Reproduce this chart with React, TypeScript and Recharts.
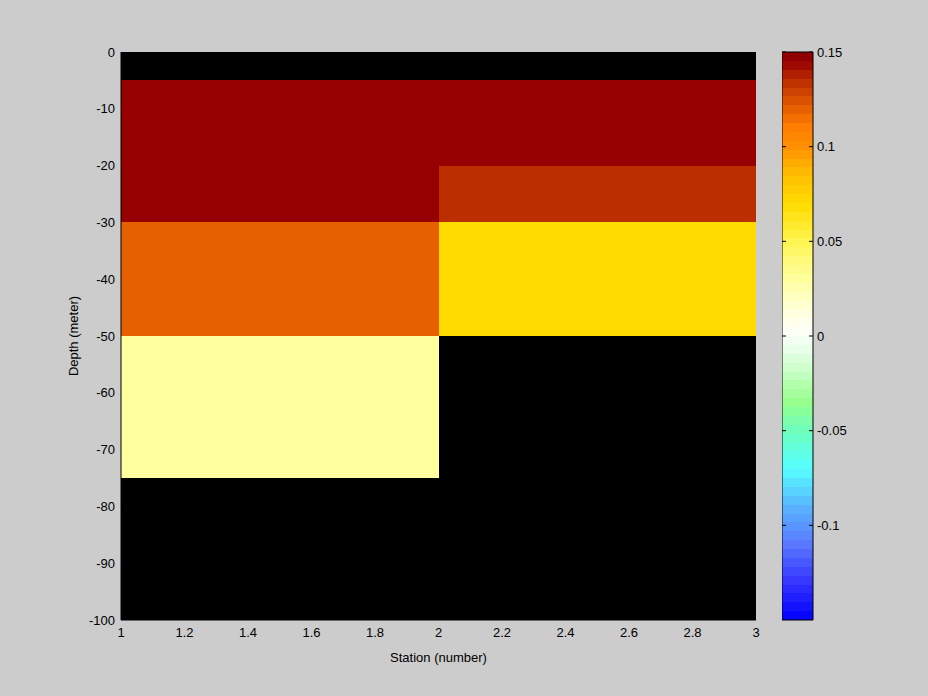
import React from 'react';
import { ComposedChart, XAxis, YAxis, ReferenceArea } from 'recharts';

// pcolor grid: cell edges and one value per depth band (null = no data, drawn black)
const stationEdges = [1, 2, 3];
const depthEdges = [0, -5, -20, -30, -50, -75, -100];
const station1Values = [null, 0.145, 0.145, 0.12, 0.03, null];
const station2Values = [null, 0.145, 0.135, 0.07, null, null];

const xTicks = [1, 1.2, 1.4, 1.6, 1.8, 2, 2.2, 2.4, 2.6, 2.8, 3];
const yTicks = [0, -10, -20, -30, -40, -50, -60, -70, -80, -90, -100];
const colorTicks = [0.15, 0.1, 0.05, 0, -0.05, -0.1];
const colorLimits = [-0.15, 0.15];

// colormap anchors (value, colour)
const cmapStops: [number, string][] = [
  [-0.15, '#0000ff'],
  [-0.13, '#3434ff'],
  [-0.11, '#5a78ff'],
  [-0.09, '#5ab4ff'],
  [-0.07, '#55ffff'],
  [-0.05, '#6effbe'],
  [-0.035, '#96ff8c'],
  [-0.015, '#d2ffd2'],
  [0, '#fafffa'],
  [0.01, '#ffffe6'],
  [0.03, '#ffffa0'],
  [0.05, '#fff550'],
  [0.07, '#ffdb00'],
  [0.085, '#ffbe00'],
  [0.1, '#ff9100'],
  [0.11, '#ff7d00'],
  [0.12, '#e66000'],
  [0.135, '#bb2e00'],
  [0.145, '#960000'],
  [0.15, '#8c0000'],
];
const LEVELS = 64;

const hex = (c: string) => [1, 3, 5].map((i) => parseInt(c.slice(i, i + 2), 16));

function cmap(v: number) {
  if (v <= cmapStops[0][0]) return cmapStops[0][1];
  for (let i = 1; i < cmapStops.length; i++) {
    const [v1, c1] = cmapStops[i];
    if (v <= v1) {
      const [v0, c0] = cmapStops[i - 1];
      const t = (v - v0) / (v1 - v0);
      const a = hex(c0);
      const b = hex(c1);
      const rgb = a.map((x, k) => Math.round(x + (b[k] - x) * t));
      return `rgb(${rgb.join(',')})`;
    }
  }
  return cmapStops[cmapStops.length - 1][1];
}

const font = { fontFamily: '"Liberation Sans", Arial, sans-serif', fontSize: 13, fill: '#000' };

const stations = [station1Values, station2Values];
const cells = stations.flatMap((vals, s) =>
  vals.map((v, d) => ({
    x1: stationEdges[s],
    x2: stationEdges[s + 1],
    y1: depthEdges[d + 1],
    y2: depthEdges[d],
    value: v,
  }))
);

const levelStep = (colorLimits[1] - colorLimits[0]) / LEVELS;
const levels = Array.from({ length: LEVELS }, (_, i) => {
  const lo = colorLimits[0] + i * levelStep;
  return { y1: lo, y2: lo + levelStep, color: cmap(lo + levelStep / 2) };
});

const DepthLabel = ({ viewBox }: any) => {
  const cx = 73;
  const cy = viewBox.y + viewBox.height / 2;
  return (
    <text x={cx} y={cy} transform={`rotate(-90 ${cx} ${cy})`} textAnchor="middle" dominantBaseline="central" style={font}>
      Depth (meter)
    </text>
  );
};

const StationLabel = ({ viewBox }: any) => (
  <text x={viewBox.x + viewBox.width / 2} y={657} textAnchor="middle" dominantBaseline="central" style={font}>
    Station (number)
  </text>
);

const ColorTick = ({ x, y, payload }: any) => (
  <g>
    <line x1={x - 31} x2={x - 27} y1={y} y2={y} stroke="#000" />
    <line x1={x - 4} x2={x} y1={y} y2={y} stroke="#000" />
    <text x={x + 4} y={y} dominantBaseline="central" style={font}>
      {payload.value}
    </text>
  </g>
);

export default function App() {
  return (
    <div style={{ position: 'absolute', left: 0, top: 0, width: 928, height: 696, background: '#cccccc' }}>
      <div style={{ position: 'absolute', left: 0, top: 0 }}>
        <ComposedChart width={928} height={696} margin={{ top: 52, right: 172, bottom: 46, left: 0 }}>
          <XAxis
            type="number"
            dataKey="x"
            domain={[1, 3]}
            ticks={xTicks}
            allowDataOverflow
            height={30}
            tickLine={false}
            tickSize={6}
            tickMargin={2}
            axisLine={{ stroke: '#000' }}
            tick={font}
            label={<StationLabel />}
          />
          <YAxis
            type="number"
            dataKey="y"
            domain={[-100, 0]}
            ticks={yTicks}
            allowDataOverflow
            width={121}
            tickLine={false}
            tickSize={6}
            tickMargin={0}
            axisLine={{ stroke: '#000' }}
            tick={font}
            label={<DepthLabel />}
          />
          {cells.map((c, i) => (
            <ReferenceArea
              key={i}
              x1={c.x1}
              x2={c.x2}
              y1={c.y1}
              y2={c.y2}
              fill={c.value == null ? '#000000' : cmap(c.value)}
              fillOpacity={1}
              stroke="none"
              shapeRendering="crispEdges"
              ifOverflow="visible"
            />
          ))}
        </ComposedChart>
      </div>
      <div style={{ position: 'absolute', left: 782, top: 0 }}>
        <ComposedChart width={146} height={696} margin={{ top: 52, right: 0, bottom: 76, left: 0 }}>
          <XAxis type="number" dataKey="x" domain={[0, 1]} allowDataOverflow hide />
          <YAxis
            type="number"
            dataKey="v"
            orientation="right"
            domain={[-0.15, 0.15]}
            ticks={colorTicks}
            allowDataOverflow
            width={115}
            tickLine={false}
            axisLine={false}
            tickSize={0}
            tickMargin={0}
            tick={<ColorTick />}
          />
          {levels.map((l, i) => (
            <ReferenceArea
              key={i}
              x1={0}
              x2={1}
              y1={l.y1}
              y2={l.y2}
              fill={l.color}
              fillOpacity={1}
              stroke="none"
              shapeRendering="crispEdges"
              ifOverflow="visible"
            />
          ))}
          <ReferenceArea
            x1={0}
            x2={1}
            y1={-0.15}
            y2={0.15}
            fill="none"
            stroke="#000"
            strokeWidth={1}
            ifOverflow="visible"
          />
        </ComposedChart>
      </div>
    </div>
  );
}
